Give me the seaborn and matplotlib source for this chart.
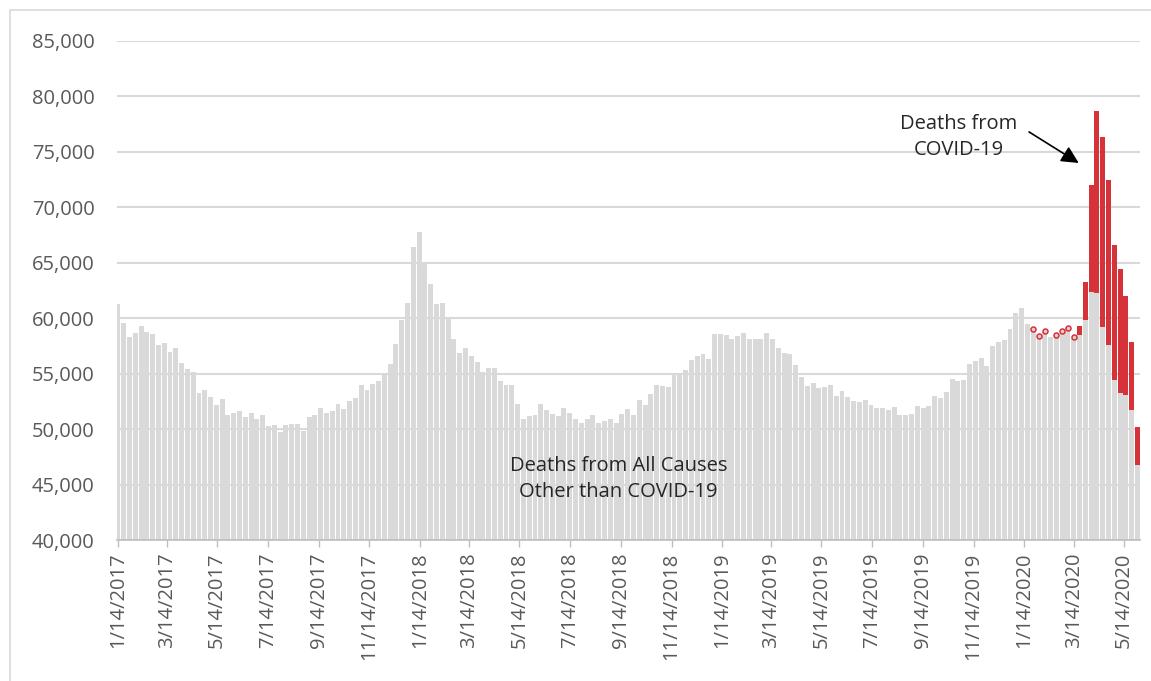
import numpy as np
import pandas as pd
import matplotlib.pyplot as plt
import seaborn as sns
from matplotlib.patches import Rectangle

# --- Data: weekly US deaths (thousands), weeks ending 1/14/2017 .. 5/30/2020 ---
start_week = "2017-01-14"

other_k = [
    61.3, 59.6, 58.3, 58.7, 59.3, 58.75, 58.55, 57.55, 57.75, 56.95,
    57.3, 56.0, 55.4, 55.15, 53.3, 53.55, 52.9, 52.2, 52.7, 51.3,
    51.5, 51.65, 51.1, 51.5, 50.9, 51.25, 50.3, 50.4, 49.7, 50.35,
    50.5, 50.45, 49.85, 51.1, 51.27, 51.95, 51.5, 51.6, 52.3, 51.85,
    52.5, 52.8, 53.95, 53.55, 54.05, 54.35, 55.0, 55.85, 57.65, 59.8,
    61.35, 66.45, 67.8, 64.9, 63.05, 61.25, 61.4, 60.1, 58.1, 56.9,
    57.35, 56.6, 56.05, 55.15, 55.5, 55.5, 54.3, 54.0, 54.0, 52.3,
    50.9, 51.15, 51.3, 52.25, 51.7, 51.4, 51.15, 51.9, 51.5, 50.9,
    50.55, 50.9, 51.25, 50.55, 50.7, 50.9, 50.55, 51.35, 51.85, 51.25,
    52.6, 52.15, 53.2, 54.0, 53.9, 53.8, 55.0, 55.1, 55.3, 56.2,
    56.6, 56.8, 56.3, 58.6, 58.6, 58.5, 58.1, 58.4, 58.7, 58.1,
    58.1, 58.15, 58.7, 58.1, 57.35, 56.9, 56.8, 55.75, 54.7, 53.9,
    54.2, 53.75, 53.8, 53.95, 52.95, 53.4, 52.9, 52.55, 52.45, 52.6,
    52.2, 51.95, 51.95, 51.7, 52.0, 51.25, 51.25, 51.4, 52.1, 51.9,
    52.05, 53.0, 52.85, 53.35, 54.55, 54.3, 54.4, 55.85, 56.15, 56.4,
    55.65, 57.5, 57.85, 58.05, 59.0, 60.5, 60.9, 59.45, 59.05, 58.35,
    58.8, 58.35, 58.45, 58.85, 59.1, 58.2, 58.5, 59.85, 62.4, 62.25,
    59.25, 57.6, 54.4, 53.3, 53.05, 51.7, 46.75,
]

covid_2020_k = [
    0.01, 0.01, 0.02, 0.0, 0.03, 0.04, 0.06, 0.1,
    0.8, 3.45, 9.6, 16.4, 17.05, 14.9, 12.2, 11.1, 8.95, 6.15, 3.4,
]
covid_k = [0.0] * (len(other_k) - len(covid_2020_k)) + covid_2020_k

# --- Build table ---
df = pd.DataFrame({
    "week": pd.date_range(start_week, periods=len(other_k), freq="7D"),
    "other": np.array(other_k) * 1000,
    "covid": np.array(covid_k) * 1000,
})
df["day"] = (df["week"] - df["week"].iloc[0]).dt.days
df["total"] = df["other"] + df["covid"]

GRAY = "#D9D9D9"
RED = "#D6323A"
TEXT = "#595959"

sns.set_theme(style="ticks")
plt.rcParams["font.family"] = ["Open Sans", "DejaVu Sans"]

fig, ax = plt.subplots(figsize=(11.51, 6.81), dpi=100)
fig.subplots_adjust(left=0.1017, right=0.9904, bottom=0.207, top=0.9398)

# stacked bars: totals in red (only weeks with visible COVID counts),
# non-COVID in gray drawn over them
big = df[df["covid"] >= 500]
sns.barplot(data=big, x="day", y="total", native_scale=True, color=RED,
            saturation=1, width=0.85, linewidth=0, errorbar=None, ax=ax)
sns.barplot(data=df, x="day", y="other", native_scale=True, color=GRAY,
            saturation=1, width=0.85, linewidth=0, errorbar=None, ax=ax)

# tiny COVID counts show up as small rings on top of the gray bars
tiny = df[(df["covid"] > 0) & (df["covid"] < 500)]
ax.scatter(tiny["day"], tiny["total"], s=13, facecolor="#E4CFD0",
           edgecolor=RED, linewidth=1.1, zorder=4)

# axes
ax.set_ylim(40000, 85000)
ax.set_xlim(-1, 1235)
ax.set_yticks(range(40000, 85001, 5000))
ax.set_yticklabels([f"{v:,}" for v in range(40000, 85001, 5000)])
ax.yaxis.grid(True, color=GRAY, linewidth=1.5)
ax.set_axisbelow(True)

first = df["week"].iloc[0]
tick_dates = []
d = first
while d <= df["week"].iloc[-1]:
    tick_dates.append(d)
    d = d + pd.DateOffset(months=2)
ax.set_xticks([(t - first).days for t in tick_dates])
ax.set_xticklabels([f"{t.month}/{t.day}/{t.year}" for t in tick_dates],
                   rotation=90)

ax.tick_params(axis="x", length=5, width=1, color="#BFBFBF",
               labelcolor=TEXT, labelsize=14.5, pad=4)
ax.tick_params(axis="y", length=0, labelcolor=TEXT, labelsize=14.5, pad=16)
ax.set_xlabel("")
ax.set_ylabel("")
for side in ["left", "right", "top"]:
    ax.spines[side].set_visible(False)
ax.spines["bottom"].set_color("#BFBFBF")

# annotations
ax.text(605, 45500, "Deaths from All Causes\nOther than COVID-19",
        ha="center", va="center", fontsize=14.5, color="#262626",
        linespacing=1.4)
ax.text(1016, 76300, "Deaths from\nCOVID-19", ha="center", va="center",
        fontsize=14.5, color="#262626", linespacing=1.4)
ax.annotate("", xy=(1161, 74000), xytext=(1101, 76800),
            arrowprops=dict(arrowstyle="-|>", color="black", lw=1.2,
                            mutation_scale=26, shrinkA=0, shrinkB=0))

# chart area border
fig.patches.append(Rectangle((10 / 1151, -0.05), 1.2, 1.05 - 10 / 681,
                             transform=fig.transFigure, fill=False,
                             edgecolor=GRAY, linewidth=1.2))

plt.savefig("out.png", dpi=100)
